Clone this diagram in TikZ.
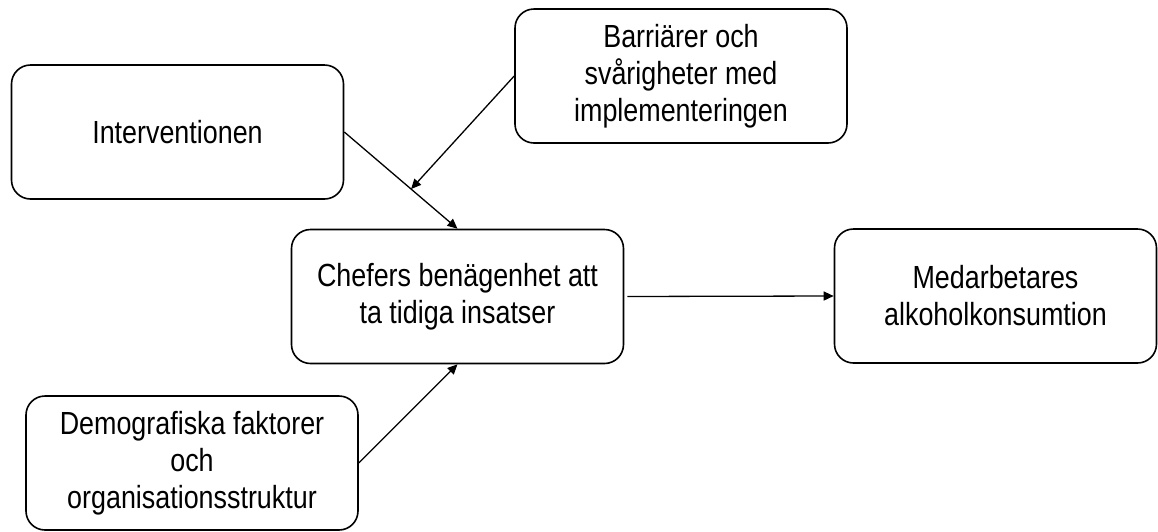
\documentclass[tikz,border=0pt]{standalone}
\usepackage{fontspec}
\setmainfont{Liberation Sans}[FakeStretch=0.84]
\usetikzlibrary{arrows.meta,calc}

\begin{document}
\begin{tikzpicture}[x=0.5pt,y=-0.5pt,
  every node/.style={draw,rounded corners=9.5pt,line width=0.8pt,align=center,
    minimum width=166pt,minimum height=67pt,inner sep=0pt,
    font=\fontsize{16}{18.5}\selectfont},
  pil/.style={-{Triangle[length=5pt,width=4.5pt]},line width=0.65pt}]

\useasboundingbox (0,0) rectangle (1158,531);

\node(int) at (177.5,132) {Interventionen};
\node(barr) at (681,76) {Barriärer och\\svårigheter med\\implementeringen};
\node(chef) at (457.5,296.5) {Chefers benägenhet att\\ta tidiga insatser};
\node[minimum width=161pt](med) at (995.5,296) {Medarbetares\\alkoholkonsumtion};
\node(demo) at (192,463) {Demografiska faktorer\\och\\organisationsstruktur};

\coordinate(m) at ($(int.east)!0.59!(chef.north)$);

\draw[pil](int.east)--(chef.north);
\draw[pil](barr.west)--(m);
\draw[pil](demo.east)--(chef.south);
\draw[pil,shorten <=1.5pt](chef.east)--(med.west);
\end{tikzpicture}
\end{document}
